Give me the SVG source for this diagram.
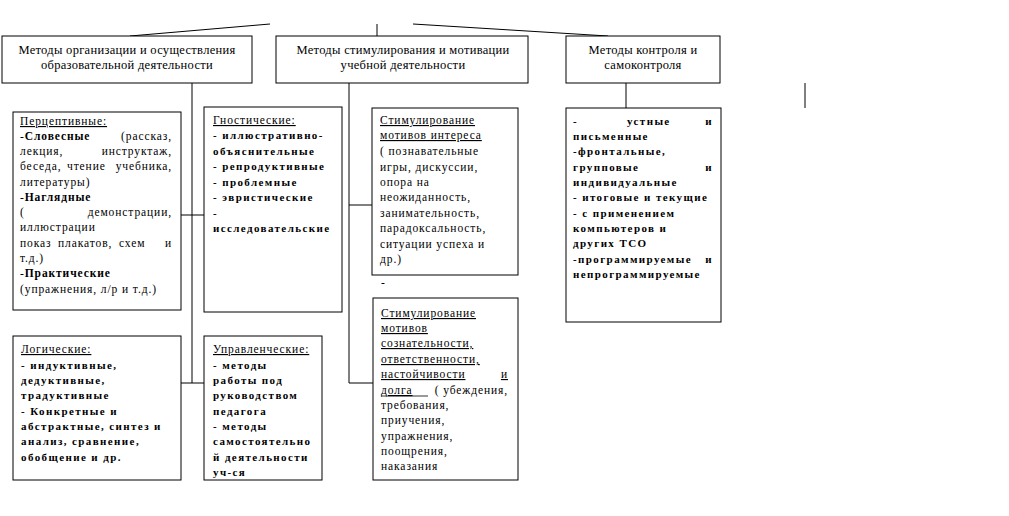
<svg xmlns="http://www.w3.org/2000/svg" width="1009" height="516" viewBox="0 0 1009 516" font-family="'Liberation Serif','Times New Roman',serif">
<style>
rect.b{fill:#fff;stroke:#000;stroke-width:1}
.c line{stroke:#000;stroke-width:1}
text{font-family:"Liberation Serif","Times New Roman",serif;fill:#000}
.h{font-size:12.5px;text-anchor:middle;letter-spacing:0.3px}
.t{font-size:11.5px;letter-spacing:0.9px}
.bd{font-size:11px;font-weight:bold;letter-spacing:1.4px}
.u{text-decoration:underline}
.r{text-anchor:end}
</style>
<rect width="1009" height="516" fill="#fff"/>
<g class="c" id="connectors">
<line x1="130" y1="36" x2="270" y2="24"/>
<line x1="377" y1="24" x2="377" y2="36"/>
<line x1="413" y1="24" x2="608" y2="36"/>
<line x1="192" y1="83" x2="192" y2="383"/>
<line x1="181" y1="215" x2="204" y2="215"/>
<line x1="181" y1="383" x2="204" y2="383"/>
<line x1="349" y1="83" x2="349" y2="383"/>
<line x1="349" y1="205" x2="372" y2="205"/>
<line x1="349" y1="383" x2="373" y2="383"/>
<line x1="626" y1="83" x2="626" y2="108"/>
<line x1="805" y1="83" x2="805" y2="108"/>
</g>
<g id="n1">
<rect class="b" x="2" y="36" width="250" height="47"/>
<text class="h" x="127" y="54">Методы организации и осуществления</text>
<text class="h" x="127" y="69">образовательной деятельности</text>
</g>
<g id="n2">
<rect class="b" x="276" y="36" width="252" height="47"/>
<text class="h" x="403" y="54">Методы стимулирования и мотивации</text>
<text class="h" x="403" y="69">учебной деятельности</text>
</g>
<g id="n3">
<rect class="b" x="566" y="36" width="154" height="47"/>
<text class="h" x="643" y="54">Методы контроля и</text>
<text class="h" x="643" y="69">самоконтроля</text>
</g>
<g id="n4">
<rect class="b" x="13" y="112" width="168" height="198"/>
<text class="t u" x="20" y="125">Перцептивные:</text>
<text class="t" x="20" y="140">-<tspan font-weight="bold">Словесные</tspan></text>
<text class="t r" x="172" y="140">(рассказ,</text>
<text class="t" x="20" y="155">лекция,</text>
<text class="t r" x="172" y="155">инструктаж,</text>
<text class="t" x="20" y="170">беседа,</text>
<text class="t" x="67" y="170">чтение</text>
<text class="t r" x="172" y="170">учебника,</text>
<text class="t" x="20" y="186">литературы)</text>
<text class="t" x="20" y="201">-<tspan font-weight="bold">Наглядные</tspan></text>
<text class="t" x="20" y="216">(</text>
<text class="t r" x="172" y="216">демонстрации,</text>
<text class="t" x="20" y="231">иллюстрации</text>
<text class="t" x="20" y="247">показ</text>
<text class="t" x="58" y="247">плакатов,</text>
<text class="t" x="119" y="247">схем</text>
<text class="t r" x="172" y="247">и</text>
<text class="t" x="20" y="262">т.д.)</text>
<text class="t" x="20" y="277">-<tspan font-weight="bold">Практические</tspan></text>
<text class="t" x="20" y="293">(упражнения, л/р и т.д.)</text>
</g>
<g id="n5">
<rect class="b" x="204" y="107" width="138" height="205"/>
<text class="t u" x="213" y="124">Гностические:</text>
<text class="bd" x="213" y="139">- иллюстративно-</text>
<text class="bd" x="213" y="155">объяснительные</text>
<text class="bd" x="213" y="170">- репродуктивные</text>
<text class="bd" x="213" y="186">- проблемные</text>
<text class="bd" x="213" y="201">- эвристические</text>
<text class="bd" x="213" y="217">-</text>
<text class="bd" x="213" y="232">исследовательские</text>
</g>
<g id="n6">
<rect class="b" x="372" y="108" width="146" height="167"/>
<text class="t u" x="380" y="124">Стимулирование</text>
<text class="t u" x="380" y="139">мотивов интереса</text>
<text class="t" x="380" y="155">( познавательные</text>
<text class="t" x="380" y="171">игры, дискуссии,</text>
<text class="t" x="380" y="186">опора на</text>
<text class="t" x="380" y="201">неожиданность,</text>
<text class="t" x="380" y="217">занимательность,</text>
<text class="t" x="380" y="232">парадоксальность,</text>
<text class="t" x="380" y="248">ситуации успеха и</text>
<text class="t" x="380" y="263">др.)</text>
</g>
<text class="t" x="381" y="286">-</text>
<g id="n7">
<rect class="b" x="566" y="108" width="155" height="214"/>
<text class="bd" x="573" y="125">-</text>
<text class="bd" x="627" y="125">устные</text>
<text class="bd r" x="713" y="125">и</text>
<text class="bd" x="573" y="140">письменные</text>
<text class="bd" x="573" y="155">-фронтальные,</text>
<text class="bd" x="573" y="171">групповые</text>
<text class="bd r" x="713" y="171">и</text>
<text class="bd" x="573" y="186">индивидуальные</text>
<text class="bd" x="573" y="201">- итоговые и текущие</text>
<text class="bd" x="573" y="217">- с применением</text>
<text class="bd" x="573" y="232">компьютеров и</text>
<text class="bd" x="573" y="247">других ТСО</text>
<text class="bd" x="573" y="263">-программируемые</text>
<text class="bd r" x="713" y="263">и</text>
<text class="bd" x="573" y="278">непрограммируемые</text>
</g>
<g id="n8">
<rect class="b" x="13" y="336" width="168" height="144"/>
<text class="t u" x="21" y="353">Логические:</text>
<text class="bd" x="21" y="369">- индуктивные,</text>
<text class="bd" x="21" y="384">дедуктивные,</text>
<text class="bd" x="21" y="399">традуктивные</text>
<text class="bd" x="21" y="415">- Конкретные и</text>
<text class="bd" x="21" y="430">абстрактные, синтез и</text>
<text class="bd" x="21" y="445">анализ, сравнение,</text>
<text class="bd" x="21" y="461">обобщение и др.</text>
</g>
<g id="n9">
<rect class="b" x="204" y="336" width="118" height="144"/>
<text class="t u" x="213" y="353">Управленческие:</text>
<text class="bd" x="213" y="369">- методы</text>
<text class="bd" x="213" y="384">работы под</text>
<text class="bd" x="213" y="399">руководством</text>
<text class="bd" x="213" y="415">педагога</text>
<text class="bd" x="213" y="430">- методы</text>
<text class="bd" x="213" y="445">самостоятельно</text>
<text class="bd" x="213" y="461">й деятельности</text>
<text class="bd" x="213" y="476">уч-ся</text>
</g>
<g id="n10">
<rect class="b" x="373" y="298" width="145" height="182"/>
<text class="t u" x="381" y="317">Стимулирование</text>
<text class="t u" x="381" y="332">мотивов</text>
<text class="t u" x="381" y="347">сознательности,</text>
<text class="t u" x="381" y="363">ответственности,</text>
<text class="t u" x="381" y="378">настойчивости</text>
<text class="t r u" x="508" y="378">и</text>
<text class="t u" x="381" y="394">долга</text>
<line x1="381" y1="396" x2="428" y2="396" stroke="#000" stroke-width="0.8"/>
<text class="t r" x="508" y="394">( убеждения,</text>
<text class="t" x="381" y="409">требования,</text>
<text class="t" x="381" y="424">приучения,</text>
<text class="t" x="381" y="440">упражнения,</text>
<text class="t" x="381" y="455">поощрения,</text>
<text class="t" x="381" y="470">наказания</text>
</g>
</svg>
